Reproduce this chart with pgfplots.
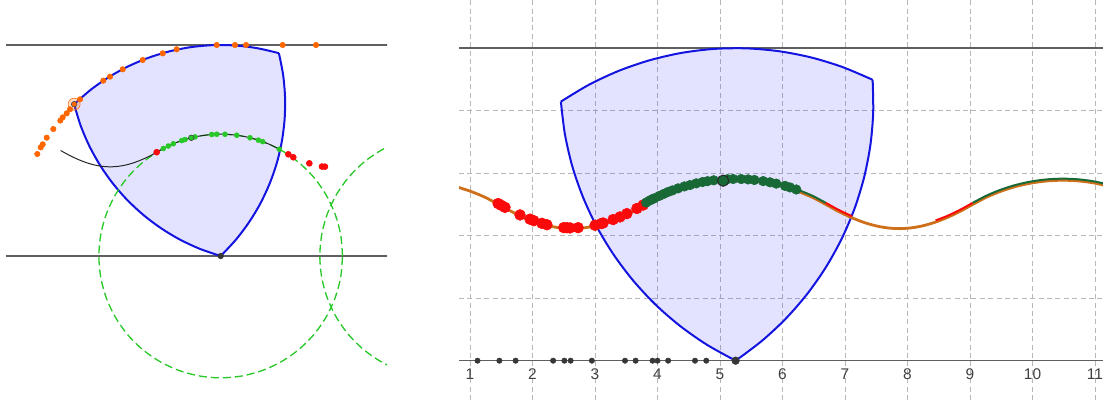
\documentclass[border=0pt]{standalone}
\usepackage{pgfplots}
\pgfplotsset{compat=1.18}
\usepackage{fontspec}
\setmainfont{Liberation Sans}
\definecolor{ggblue}{RGB}{20,20,225}
\definecolor{ggfill}{RGB}{0,0,255}
\definecolor{dkgreen}{RGB}{25,105,55}
\definecolor{ltgreen}{RGB}{40,200,40}
\definecolor{ggred}{RGB}{250,10,10}
\definecolor{ggorange}{RGB}{205,112,25}
\definecolor{dotorange}{RGB}{255,102,0}
\definecolor{lineg}{RGB}{95,95,95}
\definecolor{dotgray}{RGB}{55,55,55}
\pgfplotsset{arcstyle/.style={draw=ggblue, line width=0.5mm, smooth}}
\begin{document}
\begin{tikzpicture}
% ---------------- left view ----------------
\begin{axis}[
  at={(0mm,0mm)}, anchor=south west,
  x=10.55mm, y=10.55mm,
  xmin=-5.23, xmax=3.941, ymin=-3.412, ymax=6.066,
  hide axis, clip=true,
]
\addplot[lineg, line width=0.4mm] coordinates {(-5.088,0) (4.2,0)};
\addplot[lineg, line width=0.4mm] coordinates {(-5.088,5) (4.2,5)};
% shape fill
\addplot[draw=none, fill=ggfill, fill opacity=0.11] coordinates {
(0,0) (0.357,0.383) (0.672,0.801) (0.942,1.249) (1.163,1.724) (1.334,2.219) (1.451,2.729) (1.515,3.248) (1.524,3.772) (1.479,4.293) (1.379,4.807)
(0.868,4.924) (0.349,4.988) (-0.175,4.997) (-0.696,4.951) (-1.210,4.851) (-1.710,4.698) (-2.192,4.494) (-2.650,4.240) (-3.079,3.940) (-3.473,3.597)
(-3.321,3.096) (-3.116,2.614) (-2.862,2.156) (-2.562,1.727) (-2.219,1.332) (-1.836,0.976) (-1.418,0.661) (-0.970,0.391) (-0.495,0.170) (0,0)} -- cycle;
% shape edges
\addplot[arcstyle] coordinates {(0,0) (0.357,0.383) (0.672,0.801) (0.942,1.249) (1.163,1.724) (1.334,2.219) (1.451,2.729) (1.515,3.248) (1.524,3.772) (1.479,4.293) (1.379,4.807)};
\addplot[arcstyle] coordinates {(1.379,4.807) (0.868,4.924) (0.349,4.988) (-0.175,4.997) (-0.696,4.951) (-1.210,4.851) (-1.710,4.698) (-2.192,4.494) (-2.650,4.240) (-3.079,3.940) (-3.473,3.597)};
\addplot[arcstyle] coordinates {(-3.473,3.597) (-3.321,3.096) (-3.116,2.614) (-2.862,2.156) (-2.562,1.727) (-2.219,1.332) (-1.836,0.976) (-1.418,0.661) (-0.970,0.391) (-0.495,0.170) (0,0)};
% dashed circles
\addplot[ltgreen, line width=0.33mm, dash pattern=on 2mm off 1mm, smooth] coordinates {
(2.887,0) (2.843,0.501) (2.713,0.987) (2.500,1.443) (2.212,1.856) (1.856,2.212) (1.443,2.500) (0.987,2.713) (0.501,2.843) (0,2.887)
(-0.501,2.843) (-0.987,2.713) (-1.443,2.500) (-1.856,2.212) (-2.212,1.856) (-2.500,1.443) (-2.713,0.987) (-2.843,0.501) (-2.887,0)
(-2.843,-0.501) (-2.713,-0.987) (-2.500,-1.443) (-2.212,-1.856) (-1.856,-2.212) (-1.443,-2.500) (-0.987,-2.713) (-0.501,-2.843) (0,-2.887)
(0.501,-2.843) (0.987,-2.713) (1.443,-2.500) (1.856,-2.212) (2.212,-1.856) (2.500,-1.443) (2.713,-0.987) (2.843,-0.501) (2.887,0)};
\addplot[ltgreen, line width=0.33mm, dash pattern=on 2mm off 1mm, smooth] coordinates {
(5.236,2.887) (4.735,2.843) (4.249,2.713) (3.793,2.500) (3.380,2.212) (3.024,1.856) (2.736,1.443) (2.523,0.987) (2.393,0.501) (2.349,0)
(2.393,-0.501) (2.523,-0.987) (2.736,-1.443) (3.024,-1.856) (3.380,-2.212) (3.793,-2.500) (4.249,-2.713) (4.735,-2.843) (5.236,-2.887)};
% centroid path
\addplot[black!85, line width=0.25mm, smooth] coordinates {
(-3.793,2.500) (-3.580,2.383) (-3.376,2.287) (-3.180,2.211) (-2.990,2.157) (-2.802,2.124) (-2.618,2.113) (-2.434,2.124) (-2.246,2.157) (-2.056,2.211) (-1.860,2.287) (-1.656,2.383) (-1.443,2.500)
(-1.220,2.617) (-0.987,2.713) (-0.747,2.789) (-0.501,2.843) (-0.252,2.876) (0,2.887) (0.252,2.876) (0.501,2.843) (0.747,2.789) (0.987,2.713) (1.220,2.617) (1.443,2.500)};
% orange dots
\addplot[only marks, color=dotorange, mark=*, mark size=0.68mm, mark options={fill=dotorange, draw=dotorange}] coordinates {
(-4.346,2.417) (-4.265,2.575) (-4.218,2.646) (-4.123,2.804) (-3.967,3.009) (-3.80,3.21) (-3.744,3.286) (-3.649,3.381) (-3.571,3.476) (-3.334,3.713)
(-2.782,4.155) (-2.623,4.249) (-2.322,4.424) (-1.848,4.645) (-1.374,4.803) (-1.043,4.898) (-0.095,5.0) (0.339,5.0) (0.600,5.0) (1.469,5.0) (2.258,5.0)};
\addplot[only marks, color=dotorange, mark=*, mark size=1.5mm, mark options={draw=none, fill=dotorange, fill opacity=0.22}] coordinates {(-3.473,3.597)};
\addplot[only marks, color=black!70, mark=*, mark size=0.7mm, mark options={draw=black!70, line width=0.15mm, fill=dotorange}] coordinates {(-3.473,3.597)};
% green dots
\addplot[only marks, color=ltgreen, mark=*, mark size=0.62mm, mark options={draw=ltgreen, fill=ltgreen}] coordinates {
(-1.360,2.547) (-1.242,2.606) (-1.123,2.660) (-0.924,2.735) (-0.846,2.760) (-0.609,2.822) (-0.213,2.879) (-0.095,2.885) (0.102,2.885) (0.379,2.862) (0.694,2.802) (0.891,2.746) (0.995,2.710) (1.389,2.531)};
\addplot[only marks, color=black!75, mark=*, mark size=0.7mm, mark options={draw=black!75, line width=0.15mm, fill=ltgreen}] coordinates {(-0.698,2.801)};
% red dots
\addplot[only marks, color=ggred, mark=*, mark size=0.75mm, mark options={draw=ggred, fill=ggred}] coordinates {
(-1.517,2.46) (1.602,2.41) (1.72,2.34) (2.10,2.196) (2.40,2.12) (2.47,2.117)};
\addplot[only marks, color=dotgray, mark=*, mark size=0.7mm, mark options={draw=dotgray, fill=dotgray}] coordinates {(0,0)};
\end{axis}
% ---------------- right view ----------------
\begin{axis}[
  at={(114.75mm,0mm)}, anchor=south west,
  x=15.625mm, y=15.625mm,
  xmin=0.824, xmax=11.128, ymin=-0.629, ymax=5.771,
  axis line style={draw=none},
  tick style={draw=none},
  xtick={1,...,11}, ytick={1,2,3,4},
  yticklabels={},
  grid=major,
  major grid style={dash pattern=on 1.25mm off 0.85mm, line width=0.25mm, color=black!28},
  xticklabel style={anchor=base, yshift=5mm, font=\fontsize{11}{13}\selectfont, text=black!75},
  /pgf/number format/assume math mode=true,
  clip=true,
]
\addplot[lineg, line width=0.4mm] coordinates {(0.5,0) (11.5,0)};
\addplot[lineg, line width=0.4mm] coordinates {(0.5,5) (11.5,5)};
% shape fill
\addplot[draw=none, fill=ggfill, fill opacity=0.11] coordinates {
(5.250,0) (5.668,0.315) (6.051,0.671) (6.394,1.066) (6.694,1.495) (6.948,1.953) (7.153,2.435) (7.306,2.935) (7.406,3.449) (7.451,3.970) (7.442,4.494)
(6.960,4.698) (6.460,4.851) (5.946,4.951) (5.425,4.997) (4.901,4.988) (4.382,4.924) (3.872,4.806) (3.377,4.636) (2.903,4.415) (2.454,4.145)
(2.518,3.626) (2.635,3.116) (2.806,2.621) (3.027,2.146) (3.297,1.698) (3.612,1.280) (3.968,0.897) (4.363,0.554) (4.792,0.254) (5.250,0)} -- cycle;
% shape edges
\addplot[arcstyle] coordinates {(5.250,0) (5.668,0.315) (6.051,0.671) (6.394,1.066) (6.694,1.495) (6.948,1.953) (7.153,2.435) (7.306,2.935) (7.406,3.449) (7.451,3.970) (7.442,4.494)};
\addplot[arcstyle] coordinates {(7.442,4.494) (6.960,4.698) (6.460,4.851) (5.946,4.951) (5.425,4.997) (4.901,4.988) (4.382,4.924) (3.872,4.806) (3.377,4.636) (2.903,4.415) (2.454,4.145)};
\addplot[arcstyle] coordinates {(2.454,4.145) (2.518,3.626) (2.635,3.116) (2.806,2.621) (3.027,2.146) (3.297,1.698) (3.612,1.280) (3.968,0.897) (4.363,0.554) (4.792,0.254) (5.250,0)};
% red trace dots
\addplot[only marks, color=ggred, mark=*, mark size=1.35mm, mark options={draw=ggred, fill=ggred}] coordinates {
(1.45,2.514) (1.50,2.486) (1.56,2.453) (1.80,2.332) (1.96,2.264) (2.02,2.24) (2.15,2.198) (2.23,2.175) (2.50,2.129) (2.55,2.127) (2.60,2.124) (2.73,2.128)
(3.00,2.166) (3.10,2.194) (3.13,2.203) (3.29,2.258) (3.40,2.30) (3.51,2.353) (3.67,2.435) (3.77,2.490)};
% green trace dots
\addplot[only marks, color=dkgreen, mark=*, mark size=1.2mm, mark options={draw=dkgreen, fill=dkgreen}] coordinates {
(3.82,2.53) (3.87,2.56) (3.92,2.585) (3.95,2.598) (4.03,2.637) (4.10,2.668) (4.17,2.70) (4.24,2.725) (4.33,2.757) (4.43,2.788) (4.52,2.81) (4.62,2.837) (4.72,2.858) (4.80,2.872) (4.90,2.886)
(5.12,2.904) (5.21,2.907) (5.34,2.906) (5.45,2.900) (5.55,2.891) (5.69,2.873) (5.80,2.854) (5.90,2.833) (6.04,2.797) (6.12,2.772) (6.22,2.739)};
% orange curve
\addplot[ggorange, line width=0.7mm, smooth] coordinates {
(0.761,2.789) (1.001,2.713) (1.234,2.617) (1.457,2.500) (1.670,2.383) (1.874,2.287) (2.070,2.211) (2.260,2.157) (2.448,2.124) (2.632,2.113) (2.816,2.124) (3.004,2.157) (3.194,2.211) (3.390,2.287) (3.594,2.383) (3.807,2.500)
(4.030,2.617) (4.263,2.713) (4.503,2.789) (4.749,2.843) (4.998,2.876) (5.250,2.887) (5.502,2.876) (5.751,2.843) (5.997,2.789) (6.237,2.713) (6.470,2.617) (6.693,2.500)
(6.906,2.383) (7.110,2.287) (7.306,2.211) (7.496,2.157) (7.684,2.124) (7.868,2.113) (8.052,2.124) (8.240,2.157) (8.430,2.211) (8.626,2.287) (8.830,2.383) (9.043,2.500)
(9.266,2.617) (9.499,2.713) (9.739,2.789) (9.985,2.843) (10.234,2.876) (10.486,2.887) (10.738,2.876) (10.987,2.843) (11.233,2.789)};
% coloured trace lines
\addplot[dkgreen, line width=0.5mm, smooth] coordinates {(6.10,2.784) (6.237,2.738) (6.470,2.642) (6.693,2.525)};
\addplot[ggred, line width=0.5mm, smooth] coordinates {(6.693,2.525) (6.906,2.408) (7.110,2.312)};
\addplot[ggred, line width=0.5mm, smooth] coordinates {(8.45,2.244) (8.626,2.312) (8.830,2.408) (9.043,2.525)};
\addplot[dkgreen, line width=0.5mm, smooth] coordinates {
(9.043,2.525) (9.266,2.642) (9.499,2.738) (9.739,2.814) (9.985,2.868) (10.234,2.901) (10.486,2.912) (10.738,2.901) (10.987,2.868) (11.233,2.814)};
% current centroid
\addplot[only marks, color=black!85, mark=*, mark size=1.4mm, mark options={draw=black!85, line width=0.25mm, fill=dkgreen}] coordinates {(5.05,2.880)};
% contact points on the axis
\addplot[only marks, color=dotgray, mark=*, mark size=0.67mm, mark options={draw=dotgray, fill=dotgray}] coordinates {
(1.12,0) (1.47,0) (1.73,0) (2.33,0) (2.51,0) (2.61,0) (2.95,0) (3.48,0) (3.65,0) (3.92,0) (4.00,0) (4.17,0) (4.60,0) (4.78,0)};
\addplot[only marks, color=dotgray, mark=*, mark size=0.95mm, mark options={draw=dotgray, fill=dotgray}] coordinates {(5.25,0)};
\end{axis}
\pgfresetboundingbox
\path[use as bounding box] (0,0) rectangle (275.75mm,100mm);
\end{tikzpicture}
\end{document}
